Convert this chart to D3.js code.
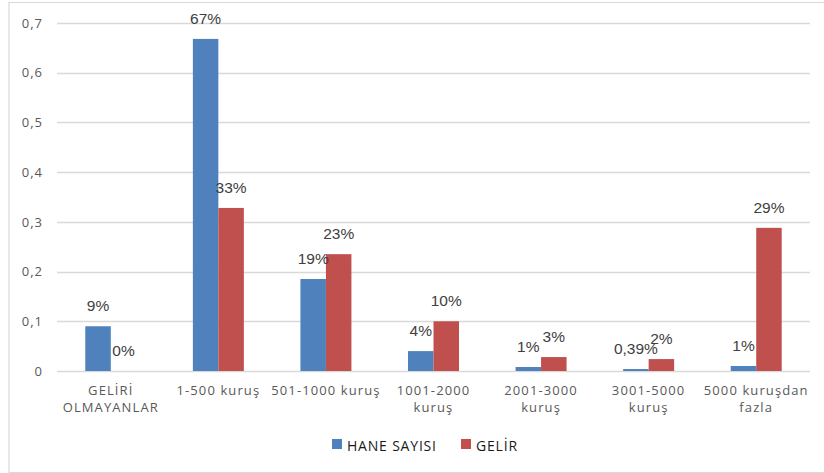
<!DOCTYPE html>
<html>
<head>
<meta charset="utf-8">
<script src="https://cdn.jsdelivr.net/npm/d3@7"></script>
<style>
body{margin:0;background:#fff;}
svg{display:block;}
</style>
</head>
<body>
<svg></svg>
<script>
var categories=[["GELİRİ","OLMAYANLAR"],["1-500 kuruş"],["501-1000 kuruş"],["1001-2000","kuruş"],["2001-3000","kuruş"],["3001-5000","kuruş"],["5000 kuruşdan","fazla"]];
var haneSayisi=[0.09,0.668,0.185,0.04,0.008,0.0039,0.01];
var gelir=[0,0.328,0.235,0.1,0.028,0.024,0.288];
var haneLabels=["9%","67%","19%","4%","1%","0,39%","1%"];
var gelirLabels=["0%","33%","23%","10%","3%","2%","29%"];
var yTicks=[0,0.1,0.2,0.3,0.4,0.5,0.6,0.7];
var seriesNames=["HANE SAYISI","GELİR"];
var colors=["#4f81bd","#c0504d"];

var svgWidth=824, svgHeight=473;
var plotLeft=57, plotRight=810, plotTop=23, plotBottom=371;

var svg=d3.select("svg").attr("width",svgWidth).attr("height",svgHeight);

// chart border
svg.append("path")
    .attr("d","M9,473 V2.5 H824 M9,472.5 H824")
    .attr("fill","none").attr("stroke","#d9d9d9").attr("stroke-width",1.2);

var y=d3.scaleLinear().domain([0,0.7]).range([plotBottom,plotTop]);
var x0=d3.scaleBand().domain(d3.range(categories.length)).range([plotLeft,plotRight]).padding(0);
var x1=d3.scaleBand().domain([0,1]).range([x0.bandwidth()*0.263,x0.bandwidth()*0.737]);

// gridlines
svg.append("g").selectAll("line").data(yTicks).enter().append("line")
    .attr("x1",plotLeft).attr("x2",plotRight)
    .attr("y1",function(d){return Math.round(y(d))+0.5;})
    .attr("y2",function(d){return Math.round(y(d))+0.5;})
    .attr("stroke","#d9d9d9").attr("stroke-width",1.3);

// y axis labels
var yAxis=d3.axisLeft(y).tickValues(yTicks).tickSize(0).tickPadding(0)
    .tickFormat(function(d){return d===0?"0":d3.format(".1f")(d).replace(".",",");});
var yg=svg.append("g").attr("transform","translate(43,0)").call(yAxis);
yg.select(".domain").remove();
yg.selectAll("text").attr("fill","#595959").style("font-family","Open Sans").style("font-size","13px").style("letter-spacing","1px");

// bars
var data=categories.map(function(c,i){return [haneSayisi[i],gelir[i]];});
var labels=categories.map(function(c,i){return [haneLabels[i],gelirLabels[i]];});
var groups=svg.append("g").selectAll("g").data(data).enter().append("g")
    .attr("transform",function(d,i){return "translate("+x0(i)+",0)";});
groups.selectAll("rect").data(function(d){return d;}).enter().append("rect")
    .attr("x",function(d,j){return x1(j);})
    .attr("width",x1.bandwidth())
    .attr("y",function(d){return y(d);})
    .attr("height",function(d){return y(0)-y(d);})
    .attr("fill",function(d,j){return colors[j];});
groups.selectAll("text").data(function(d,i){return d.map(function(v,j){return {v:v,t:labels[i][j]};});}).enter().append("text")
    .attr("x",function(d,j){return x1(j)+x1.bandwidth()/2;})
    .attr("y",function(d){return y(d.v)-15;})
    .attr("text-anchor","middle")
    .attr("fill","#404040")
    .style("font-family","Liberation Sans, Arial").style("font-size","15.5px")
    .text(function(d){return d.t;});

// category labels
var xg=svg.append("g");
categories.forEach(function(c,i){
    var t=xg.append("text")
        .attr("x",x0(i)+x0.bandwidth()/2).attr("y",395)
        .attr("text-anchor","middle").attr("fill","#595959")
        .style("font-family","Open Sans").style("font-size","13px").style("letter-spacing","1.1px");
    c.forEach(function(line,k){
        t.append("tspan").attr("x",x0(i)+x0.bandwidth()/2).attr("dy",k===0?0:17).text(line);
    });
});

// legend
var legend=svg.append("g");
var legendX=[332,461];
seriesNames.forEach(function(n,i){
    legend.append("rect").attr("x",legendX[i]).attr("y",439).attr("width",10).attr("height",10).attr("fill",colors[i]);
    legend.append("text").attr("x",legendX[i]+15).attr("y",451)
        .attr("fill","#1a1a1a").style("font-family","Open Sans").style("font-size","14px").style("letter-spacing","0.8px")
        .text(n);
});
</script>
</body>
</html>
